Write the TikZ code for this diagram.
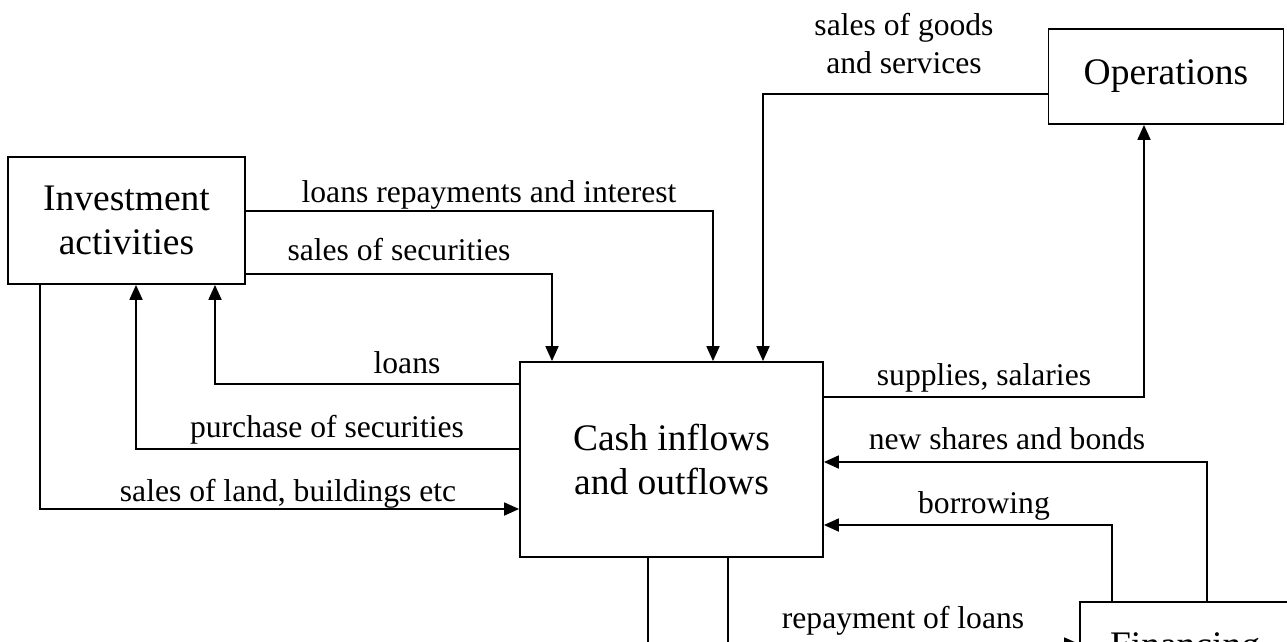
\documentclass[tikz,border=0pt]{standalone}
\usepackage{fontspec}
\setmainfont{Liberation Serif}
\usetikzlibrary{arrows.meta}

\begin{document}
\begin{tikzpicture}[x=1pt,y=-1pt,
    box/.style={draw,line width=1.8pt,align=center,inner sep=0pt,font=\fontsize{37.5}{44}\selectfont},
    lbl/.style={anchor=base,inner sep=0pt,align=center,font=\fontsize{31.6}{38}\selectfont},
    flow/.style={line width=1.8pt,-{Triangle[length=15pt,width=13pt]}},
    wire/.style={line width=1.8pt}]
      \clip (0,0) rectangle (1287,641);
      \node[box,minimum width=237pt,minimum height=127pt] (inv) at (126.5,220.5) {Investment\\activities};
      \node[box,minimum width=303pt,minimum height=195pt] (cash) at (671.5,459.5) {Cash inflows\\and outflows};
      \node[box,minimum width=235pt,minimum height=95pt] (ops) at (1166,76.5) {Operations};
      \node[box,minimum width=210pt,minimum height=95pt] (fin) at (1185,649.5) {Financing};
      \node[lbl] (lrep) at (489,202) {loans repayments and interest};
      \node[lbl] (lsec) at (399,260) {sales of securities};
      \node[lbl] (lloan) at (407,373) {loans};
      \node[lbl] (lpur) at (327,437) {purchase of securities};
      \node[lbl] (lland) at (288,501) {sales of land, buildings etc};
      \node[lbl] (lgoods) at (904,73) {sales of goods\\and services};
      \node[lbl] (lsup) at (984,385) {supplies, salaries};
      \node[lbl] (lshare) at (1007,449) {new shares and bonds};
      \node[lbl] (lborr) at (984,513) {borrowing};
      \node[lbl] (lrepay) at (903,628) {repayment of loans};
      \draw[flow] (inv.east |- 0,211) -| (cash.north -| 713,0);
      \draw[flow] (inv.east |- 0,274) -| (cash.north -| 552,0);
      \draw[flow] (ops.west |- 0,94) -| (cash.north -| 763,0);
      \draw[flow] (cash.west |- 0,384) -| (inv.south -| 215,0);
      \draw[flow] (cash.west |- 0,449) -| (inv.south -| 136,0);
      \draw[flow] (inv.south -| 40,0) |- (cash.west |- 0,509);
      \draw[flow] (cash.east |- 0,397) -| (ops.south -| 1144,0);
      \draw[flow] (fin.north -| 1207,0) |- (cash.east |- 0,462);
      \draw[flow] (fin.north -| 1112,0) |- (cash.east |- 0,525);
      \draw[flow] (cash.south -| 728,0) |- (fin.west |- 0,644);
      \coordinate (down) at (648,700);
      \draw[wire] (cash.south -| 648,0) -- (down);
\end{tikzpicture}
\end{document}
